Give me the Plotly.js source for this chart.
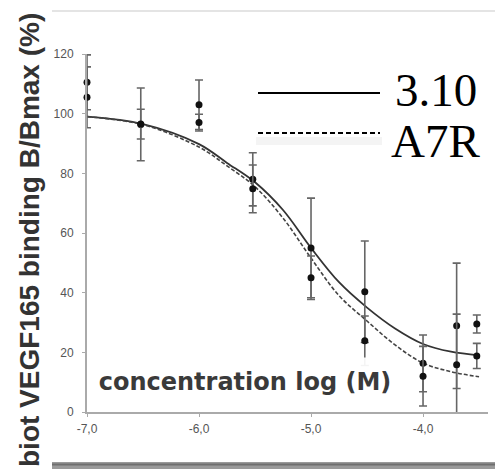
<!DOCTYPE html>
<html>
<head>
<meta charset="utf-8">
<script src="https://cdn.plot.ly/plotly-3.0.1.min.js"></script>
<style>html,body{margin:0;padding:0;background:#fff;}#chart{width:495px;height:473px;}</style>
</head>
<body>
<div id="chart"></div>
<script>
// Data
const concLog = [-7.0, -6.52, -6.0, -5.52, -5.0, -4.52, -4.0, -3.7, -3.52];
const seriesA = [110.5, 96.4, 103.0, 78.0, 55.0, 40.3, 16.3, 28.9, 18.8];
const seriesAErr = [9.2, 12.2, 8.3, 8.9, 16.7, 17.0, 9.5, 21.0, 4.2];
const seriesB = [105.5, 96.5, 97.0, 74.8, 45.0, 23.9, 12.0, 15.8, 29.5];
const seriesBErr = [10.2, 5.0, 2.8, 8.0, 7.3, 8.3, 10.0, 17.0, 3.0];

const curveX = [-7.0, -6.5, -6.0, -5.75, -5.5, -5.25, -5.0, -4.75, -4.5, -4.25, -4.0, -3.75, -3.5];
const curve310 = [99.0, 96.5, 89.8, 83.5, 77.0, 67.7, 55.0, 43.5, 35.0, 28.0, 22.8, 20.2, 19.0];
const curveA7R = [99.0, 96.3, 88.8, 82.5, 75.5, 65.0, 51.6, 39.0, 30.5, 22.5, 16.4, 13.5, 11.8];

const seriesNames = ['3.10', 'A7R'];
const xTickVals = [-7, -6, -5, -4];
const xTickText = ['-7,0', '-6,0', '-5,0', '-4,0'];
const yTitle = 'biot VEGF165 binding B/Bmax (%)';
const xLabel = 'concentration log (M)';

const errStyle = (arr) => ({type: 'data', array: arr, visible: true, color: '#666', thickness: 1.6, width: 4});

const traces = [
  {x: curveX, y: curve310, mode: 'lines', line: {color: '#333', width: 1.8, shape: 'spline'}, name: seriesNames[0], hoverinfo: 'skip'},
  {x: curveX, y: curveA7R, mode: 'lines', line: {color: '#444', width: 1.6, dash: '4px,2px', shape: 'spline'}, name: seriesNames[1], hoverinfo: 'skip'},
  {x: concLog, y: seriesA, mode: 'markers', marker: {color: '#111', size: 7}, error_y: errStyle(seriesAErr), cliponaxis: false, name: seriesNames[0]},
  {x: concLog, y: seriesB, mode: 'markers', marker: {color: '#111', size: 7}, error_y: errStyle(seriesBErr), cliponaxis: false, name: seriesNames[1]}
];

const axisFont = {family: 'Liberation Sans, Arial, sans-serif', size: 12, color: '#555'};
// paper conversion helpers for decor (plot area: x 87..488 px, y 54..412 px)
const px = (p) => (p - 87) / 401;
const py = (p) => (412 - p) / 358;

const layout = {
  width: 495, height: 473,
  margin: {l: 87, r: 7, t: 54, b: 61},
  paper_bgcolor: '#fff', plot_bgcolor: '#fff',
  showlegend: false,
  xaxis: {
    range: [-7, -3.42], tickvals: xTickVals, ticktext: xTickText,
    showline: true, linecolor: '#aaa', linewidth: 2, ticks: 'outside', ticklen: 3, tickcolor: '#aaa',
    showgrid: false, zeroline: false, tickfont: axisFont, ticklabelstandoff: 2
  },
  yaxis: {
    range: [0, 120], dtick: 20,
    showline: true, linecolor: '#aaa', linewidth: 2, ticks: 'outside', ticklen: 3, tickcolor: '#aaa',
    showgrid: false, zeroline: false, tickfont: axisFont, ticklabelstandoff: 6
  },
  shapes: [
    {type: 'line', xref: 'paper', yref: 'paper', x0: px(52), x1: px(495), y0: py(11), y1: py(11), line: {color: '#e4e4e4', width: 2}},
    {type: 'rect', xref: 'paper', yref: 'paper', x0: px(52), x1: px(495), y0: py(462), y1: py(469), fillcolor: '#9a9a9a', line: {width: 0}},
    {type: 'line', xref: 'paper', yref: 'paper', x0: px(52), x1: px(495), y0: py(464.5), y1: py(464.5), line: {color: '#6f6f6f', width: 2}},
    // legend lines
    {type: 'line', xref: 'paper', yref: 'paper', x0: px(258), x1: px(380), y0: py(93), y1: py(93), line: {color: '#000', width: 2}},
    {type: 'line', xref: 'paper', yref: 'paper', x0: px(256), x1: px(382), y0: py(141), y1: py(141), line: {color: 'rgba(0,0,0,0.045)', width: 8}},
    {type: 'line', xref: 'paper', yref: 'paper', x0: px(258), x1: px(380), y0: py(133), y1: py(133), line: {color: '#000', width: 2, dash: '5px,3px'}}
  ],
  annotations: [
    {text: seriesNames[0], xref: 'paper', yref: 'paper', x: px(393), y: py(90), xanchor: 'left', yanchor: 'middle', showarrow: false,
     font: {family: 'Liberation Serif, Times New Roman, serif', size: 47, color: '#000'}},
    {text: seriesNames[1], xref: 'paper', yref: 'paper', x: px(389), y: py(141), xanchor: 'left', yanchor: 'middle', showarrow: false,
     font: {family: 'Liberation Serif, Times New Roman, serif', size: 47, color: '#000'}},
    {text: '<b>' + xLabel + '</b>', xref: 'paper', yref: 'paper', x: px(245), y: py(382), xanchor: 'center', yanchor: 'middle', showarrow: false,
     width: 304, height: 46, bgcolor: 'rgba(255,255,255,0.93)', font: {family: 'DejaVu Sans, Verdana, sans-serif', size: 24, color: '#3a3a3a'}},
    {text: '<b>' + yTitle + '</b>', xref: 'paper', yref: 'paper', x: px(30), y: py(240), xanchor: 'center', yanchor: 'middle', textangle: -90, showarrow: false,
     font: {family: 'Liberation Sans, Arial, sans-serif', size: 28, color: '#333'}}
  ]
};

Plotly.newPlot('chart', traces, layout, {displayModeBar: false, staticPlot: true});
</script>
</body>
</html>
